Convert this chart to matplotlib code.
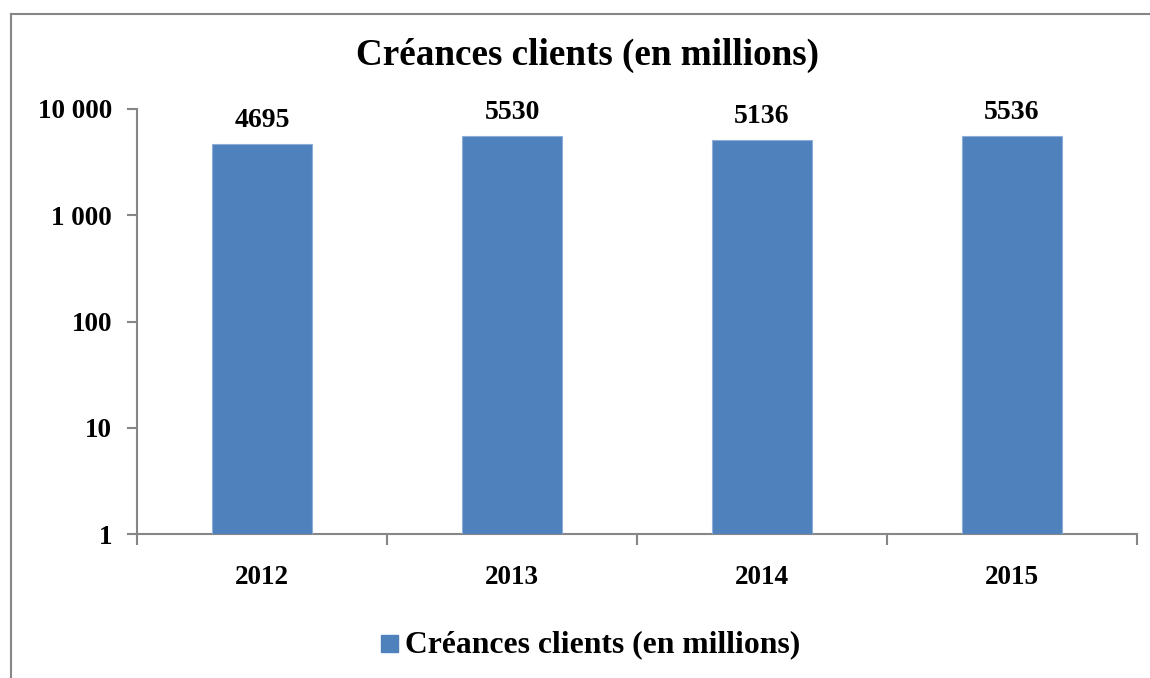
import matplotlib
matplotlib.use("Agg")
import matplotlib.pyplot as plt
from matplotlib.lines import Line2D
from matplotlib.ticker import FixedLocator, FixedFormatter, NullLocator

years = ["2012", "2013", "2014", "2015"]
receivables = [4695, 5530, 5136, 5536]
ytick_values = [1, 10, 100, 1000, 10000]
ytick_labels = ["1", "10", "100", "1 000", "10 000"]

title = "Créances clients (en millions)"
bar_color = "#4F81BD"
axis_gray = "#868686"

plt.rcParams["font.family"] = ["Liberation Serif", "DejaVu Serif"]
plt.rcParams["font.weight"] = "bold"

W, H, DPI = 1150, 678, 100
fig = plt.figure(figsize=(W / DPI, H / DPI), dpi=DPI)

# axes box in pixel coordinates: left 137, right 1137, top 109, bottom 534
left, right, top, bottom = 137, 1137, 109, 534
ax = fig.add_axes([left / W, 1 - bottom / H, (right - left) / W, (bottom - top) / H])

x = list(range(len(years)))
bars = ax.bar(x, receivables, width=0.4, color=bar_color, edgecolor="#8EAEDA",
              linewidth=0.8, bottom=1, zorder=3)

ax.set_yscale("log")
ax.set_ylim(1, 10000)
ax.set_xlim(-0.5, len(years) - 0.5)

ax.yaxis.set_major_locator(FixedLocator(ytick_values))
ax.yaxis.set_major_formatter(FixedFormatter(ytick_labels))
ax.yaxis.set_minor_locator(NullLocator())

ax.set_xticks(x)
ax.set_xticklabels(years)
ax.set_xticks([i - 0.5 for i in range(len(years) + 1)], minor=True)

for side in ("top", "right"):
    ax.spines[side].set_visible(False)
for side in ("left", "bottom"):
    ax.spines[side].set_color(axis_gray)
    ax.spines[side].set_linewidth(1.5)

ax.tick_params(axis="y", which="major", length=7, width=1.5, color=axis_gray,
               labelsize=19.5, pad=11, labelcolor="black")
ax.tick_params(axis="x", which="major", length=0, labelsize=19.5, pad=22,
               labelcolor="black")
ax.tick_params(axis="x", which="minor", length=8, width=1.5, color=axis_gray,
               direction="out")

for rect, val in zip(bars, receivables):
    ax.annotate(f"{val}", xy=(rect.get_x() + rect.get_width() / 2, val),
                xytext=(0, 17), textcoords="offset points", ha="center",
                va="center", fontsize=20, fontweight="bold")

fig.text(588 / W, 1 - 55 / H, title, ha="center", va="center",
         fontsize=26.7, fontweight="bold")

# legend entry below the plot
fig.patches.append(plt.Rectangle((381 / W, 1 - 652 / H), 17 / W, 17 / H,
                                 transform=fig.transFigure, color=bar_color))
fig.text(405 / W, 1 - 645 / H, title, ha="left", va="center",
         fontsize=22.8, fontweight="bold")

# chart frame (left and top edges visible)
fig.add_artist(Line2D([11 / W, 11 / W], [0, 1 - 14 / H], transform=fig.transFigure,
                      color=axis_gray, linewidth=1.5))
fig.add_artist(Line2D([11 / W, 1], [1 - 14 / H, 1 - 14 / H], transform=fig.transFigure,
                      color=axis_gray, linewidth=1.5))

fig.savefig("out.png", dpi=DPI)
